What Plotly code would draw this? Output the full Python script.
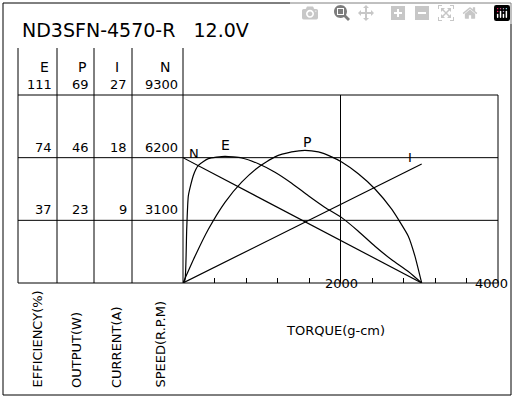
import plotly.graph_objects as go

# torque (g-cm) sample points
torque_e = [0, 25, 47, 68, 131, 195, 322, 533, 745, 957, 1168, 1380, 1592, 1803, 2015, 2226, 2438, 2650, 2861, 3031]
efficiency = [0, 1.8, 31.6, 51.5, 63.5, 69.4, 73.4, 74.8, 73.8, 70.4, 65.4, 58.9, 51.5, 44.6, 38.6, 30.6, 21.7, 13.7, 6.8, 0]
torque_p = [0, 152, 322, 533, 745, 957, 1168, 1380, 1549, 1718, 1888, 2015, 2226, 2438, 2650, 2861, 2946, 3031]
output_w = [0, 9.8, 19.7, 29.6, 37.0, 42.5, 46.3, 48.1, 48.7, 48.1, 46.3, 44.4, 40.1, 34.5, 27.1, 17.2, 9.8, 0]
torque_line = [0, 3031]
speed = [6200, 0]
current = [0, 17.1]

col_heads = ["E", "P", "I", "N"]
row_vals = [["111", "69", "27", "9300"], ["74", "46", "18", "6200"], ["37", "23", "9", "3100"]]
axis_names = ["EFFICIENCY(%)", "OUTPUT(W)", "CURRENT(A)", "SPEED(R.P.M)"]

W, H = 516, 400
px = lambda x: x / W
py = lambda y: 1 - y / H

x0, x1, y0, y1 = 183, 498, 95, 283
line = dict(color="black", width=1)
curve = dict(color="black", width=1.2)

fig = go.Figure()
fig.add_trace(go.Scatter(x=torque_line, y=speed, yaxis="y", mode="lines", line=curve))
fig.add_trace(go.Scatter(x=torque_e, y=efficiency, yaxis="y2", mode="lines", line=dict(curve, shape="spline", smoothing=0.5)))
fig.add_trace(go.Scatter(x=torque_p, y=output_w, yaxis="y3", mode="lines", line=dict(curve, shape="spline", smoothing=0.5)))
fig.add_trace(go.Scatter(x=torque_line, y=current, yaxis="y4", mode="lines", line=curve))

hidden = dict(visible=False, domain=[py(y1), py(y0)])
fig.update_layout(
    width=W, height=H, margin=dict(l=0, r=0, t=0, b=0),
    paper_bgcolor="white", plot_bgcolor="white", showlegend=False,
    font=dict(family="DejaVu Sans", color="black"),
    xaxis=dict(domain=[px(x0), px(x1)], range=[0, 4000], showgrid=False, zeroline=False,
               showticklabels=False, ticks="inside", tickvals=list(range(400, 4000, 400)),
               ticklen=5, tickcolor="black"),
    yaxis=dict(hidden, range=[0, 9300]),
    yaxis2=dict(hidden, range=[0, 111], overlaying="y"),
    yaxis3=dict(hidden, range=[0, 69], overlaying="y"),
    yaxis4=dict(hidden, range=[0, 27], overlaying="y"),
)

shapes = [dict(type="rect", xref="paper", yref="paper", x0=px(3), x1=px(511), y0=py(395), y1=py(3), line=line)]
# horizontal grid lines
for i in range(4):
    yy = y0 + i * (y1 - y0) / 3
    shapes.append(dict(type="line", xref="paper", yref="paper", x0=px(18), x1=px(x1), y0=py(yy), y1=py(yy), line=line))
# verticals
for xx in [18, 57, 94, 132, 183]:
    shapes.append(dict(type="line", xref="paper", yref="paper", x0=px(xx), x1=px(xx), y0=py(48), y1=py(y1), line=line))
for xx in [(x0 + x1) / 2, x1]:
    shapes.append(dict(type="line", xref="paper", yref="paper", x0=px(xx), x1=px(xx), y0=py(y0), y1=py(y1), line=line))
fig.update_layout(shapes=shapes)

ann = [dict(text="ND3SFN-4570-R   12.0V", x=px(20), y=py(17), xanchor="left", font=dict(size=19))]
col_right = [57, 94, 132, 183]
col_mid = [37.5, 75.5, 113, 157.5]
for head, cx in zip(col_heads, col_mid):
    ann.append(dict(text=head, x=px(cx), y=py(57), font=dict(size=14)))
for r, vals in enumerate(row_vals):
    yy = y0 + r * (y1 - y0) / 3
    for v, rx in zip(vals, col_right):
        ann.append(dict(text=v, x=px(rx - 3), y=py(yy - 1), xanchor="right", yanchor="bottom", font=dict(size=13)))
for name, cx in zip(axis_names, [37, 76, 116, 160]):
    ann.append(dict(text=name, x=px(cx), y=py(390), textangle=-90, xanchor="center", yanchor="bottom", font=dict(size=13)))
ann += [
    dict(text="2000", x=px(341), y=py(293), font=dict(size=13)),
    dict(text="4000", x=px(510), y=py(293), xanchor="right", font=dict(size=13)),
    dict(text="TORQUE(g-cm)", x=px(335), y=py(340), font=dict(size=13)),
    dict(text="N", x=px(194), y=py(153), font=dict(size=13)),
    dict(text="E", x=px(225), y=py(145), font=dict(size=14)),
    dict(text="P", x=px(307), y=py(142), font=dict(size=14)),
    dict(text="I", x=px(414), y=py(157), font=dict(size=13)),
]
for a in ann:
    a.update(xref="paper", yref="paper", showarrow=False)
fig.update_layout(annotations=ann)

fig.write_html("out.html", post_script="document.body.style.margin='0';")
